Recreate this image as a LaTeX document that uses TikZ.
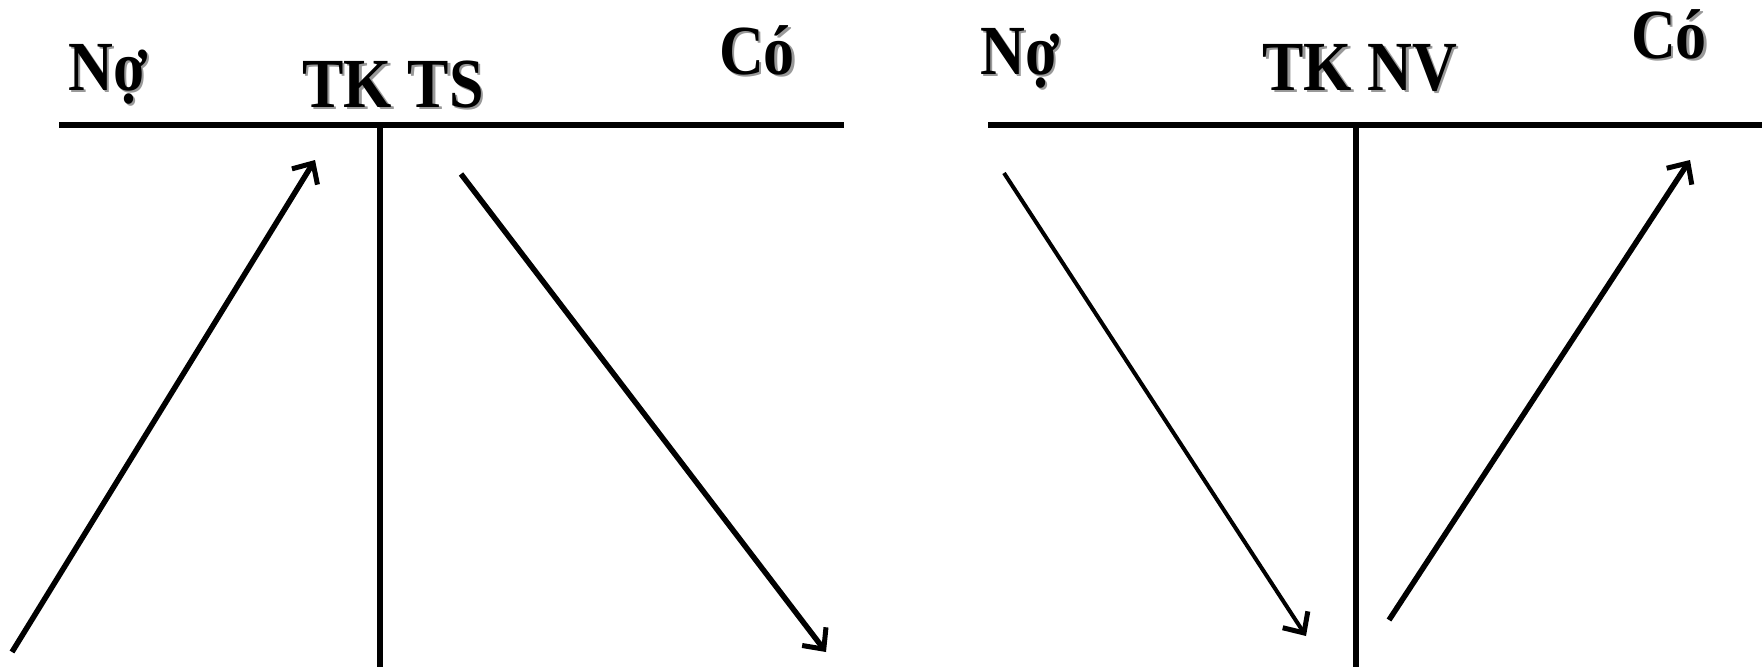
\documentclass[tikz,border=0pt]{standalone}
\usepackage{fontspec}
\setmainfont{Liberation Serif}
\usetikzlibrary{arrows.meta}
\newcommand\shtxt[1]{\scalebox{0.97}[1.1]{\makebox[0pt][l]{\hspace{2.5pt}\raisebox{-2.5pt}{\color{black!40}#1}}#1}}
\begin{document}
\begin{tikzpicture}[x=1pt,y=-1pt,
  lbl/.style={font=\fontsize{64}{64}\selectfont\bfseries, inner sep=0pt, anchor=base},
  tline/.style={line width=6.5pt},
  flow/.style={line width=5.5pt, -{Straight Barb[length=16pt,width=30pt,line width=5pt]}},
  thinflow/.style={flow, line width=4pt}]
\useasboundingbox (0,0) rectangle (1762,667);
% left T-account
\node[lbl] (no1) at (108,90) {\shtxt{Nợ}};
\node[lbl] (tk1) at (393,107) {\shtxt{TK TS}};
\node[lbl] (co1) at (757,74) {\shtxt{Có}};
\coordinate (h1a) at (59,125);
\coordinate (h1b) at (844,125);
\coordinate (v1a) at (380,125);
\coordinate (v1b) at (380,667);
\draw[tline] (h1a) -- (h1b);
\draw[tline] (v1a) -- (v1b);
% right T-account
\node[lbl] (no2) at (1020,74) {\shtxt{Nợ}};
\node[lbl] (tk2) at (1360,90) {\shtxt{TK NV}};
\node[lbl] (co2) at (1669,58) {\shtxt{Có}};
\coordinate (h2a) at (988,125);
\coordinate (h2b) at (1762,125);
\coordinate (v2a) at (1356,125);
\coordinate (v2b) at (1356,667);
\draw[tline] (h2a) -- (h2b);
\draw[tline] (v2a) -- (v2b);
% arrows
\coordinate (a1s) at (12,652);
\coordinate (a1e) at (315,160);
\coordinate (a2s) at (461,174);
\coordinate (a2e) at (826,652);
\coordinate (a3s) at (1004,173);
\coordinate (a3e) at (1306,636);
\coordinate (a4s) at (1389,620);
\coordinate (a4e) at (1690,160);
\draw[flow] (a1s) -- (a1e);
\draw[flow] (a2s) -- (a2e);
\draw[thinflow] (a3s) -- (a3e);
\draw[flow] (a4s) -- (a4e);
\end{tikzpicture}
\end{document}
